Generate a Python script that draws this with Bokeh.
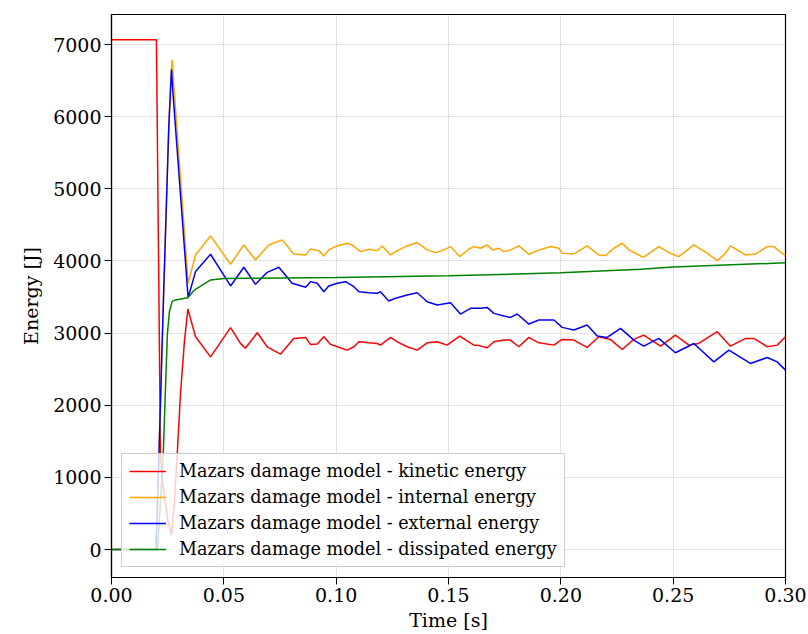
from bokeh.plotting import figure
from bokeh.models import FixedTicker, PrintfTickFormatter, Range1d
from bokeh.embed import file_html
from bokeh.resources import INLINE

# ---- data ----
X_TICKS = [0.00, 0.05, 0.10, 0.15, 0.20, 0.25, 0.30]
Y_TICKS = [0, 1000, 2000, 3000, 4000, 5000, 6000, 7000]

LABELS = [
    "Mazars damage model - kinetic energy",
    "Mazars damage model - internal energy",
    "Mazars damage model - external energy",
    "Mazars damage model - dissipated energy",
]

KIN_T = [0.0, 0.0200, 0.0218, 0.0228, 0.0251, 0.0267, 0.0280, 0.0292, 0.0307, 0.0325, 0.0340,
         0.0374, 0.0441, 0.0530, 0.0574, 0.0596, 0.0649, 0.0693, 0.0752, 0.0811, 0.0864,
         0.0886, 0.0916, 0.0945, 0.0975, 0.1005, 0.1049, 0.1079, 0.1101, 0.1145, 0.1183,
         0.1197, 0.1242, 0.1272, 0.1316, 0.1361, 0.1405, 0.1450, 0.1494, 0.1550, 0.1590,
         0.1613, 0.1628, 0.1672, 0.1702, 0.1746, 0.1776, 0.1813, 0.1858, 0.1902, 0.1969,
         0.2006, 0.2058, 0.2117, 0.2169, 0.2221, 0.2273, 0.2325, 0.2369, 0.2444, 0.2510,
         0.2570, 0.2614, 0.2696, 0.2755, 0.2822, 0.2859, 0.2919, 0.2963, 0.3000]
KIN_E = [7065, 7065, 1290, 900, 400, 204, 650, 1290, 2150, 2900, 3333,
         2950, 2670, 3075, 2857, 2790, 3005, 2810, 2708, 2926, 2940,
         2843, 2847, 2949, 2843, 2810, 2764, 2810, 2879, 2865, 2856,
         2833, 2940, 2879, 2810, 2764, 2865, 2879, 2833, 2958, 2879,
         2833, 2833, 2796, 2879, 2903, 2903, 2810, 2940, 2865, 2833,
         2912, 2903, 2801, 2949, 2912, 2773, 2912, 2972, 2819, 2972,
         2833, 2856, 3019, 2819, 2926, 2926, 2810, 2833, 2949]

INT_T = [0.0, 0.0198, 0.0211, 0.0231, 0.0255, 0.0263, 0.0270, 0.0276, 0.0341,
         0.0374, 0.0441, 0.0530, 0.0589, 0.0641, 0.0700, 0.0760, 0.0811, 0.0864,
         0.0886, 0.0923, 0.0945, 0.0967, 0.0997, 0.1049, 0.1071, 0.1108, 0.1145,
         0.1183, 0.1205, 0.1242, 0.1272, 0.1316, 0.1361, 0.1405, 0.1442, 0.1472,
         0.1509, 0.1550, 0.1590, 0.1613, 0.1642, 0.1672, 0.1695, 0.1724, 0.1746,
         0.1776, 0.1813, 0.1858, 0.1895, 0.1954, 0.1991, 0.2006, 0.2058, 0.2117,
         0.2169, 0.2199, 0.2236, 0.2273, 0.2303, 0.2355, 0.2369, 0.2436, 0.2488,
         0.2525, 0.2592, 0.2652, 0.2696, 0.2733, 0.2755, 0.2822, 0.2867, 0.2919,
         0.2948, 0.3000]
INT_E = [0, 0, 1290, 3440, 5861, 6450, 6792, 6500, 3690,
         4083, 4347, 3954, 4222, 4014, 4222, 4292, 4097, 4083,
         4167, 4143, 4069, 4153, 4199, 4245, 4222, 4129, 4162,
         4143, 4208, 4083, 4143, 4208, 4255, 4153, 4115, 4143,
         4199, 4060, 4162, 4199, 4176, 4222, 4153, 4176, 4129,
         4153, 4208, 4093, 4143, 4199, 4176, 4106, 4097, 4208,
         4083, 4074, 4176, 4245, 4153, 4069, 4051, 4199, 4106,
         4060, 4222, 4106, 4004, 4106, 4208, 4083, 4097, 4199,
         4199, 4069]

EXT_T = [0.0, 0.0198, 0.0211, 0.0231, 0.0255, 0.0267, 0.0273, 0.0341,
         0.0374, 0.0441, 0.0530, 0.0589, 0.0641, 0.0693, 0.0745, 0.0804, 0.0864,
         0.0886, 0.0916, 0.0945, 0.0967, 0.1005, 0.1042, 0.1079, 0.1101, 0.1145,
         0.1183, 0.1197, 0.1234, 0.1264, 0.1316, 0.1361, 0.1405, 0.1450, 0.1509,
         0.1553, 0.1598, 0.1642, 0.1672, 0.1702, 0.1746, 0.1776, 0.1806, 0.1858,
         0.1902, 0.1969, 0.2006, 0.2058, 0.2117, 0.2162, 0.2206, 0.2266, 0.2325,
         0.2369, 0.2436, 0.2510, 0.2592, 0.2681, 0.2748, 0.2844, 0.2919, 0.2963,
         0.3000]
EXT_E = [0, 0, 1290, 3440, 5861, 6653, 6350, 3490,
         3852, 4093, 3653, 3912, 3676, 3842, 3912, 3690, 3634,
         3713, 3690, 3574, 3653, 3690, 3713, 3643, 3574, 3560,
         3551, 3574, 3444, 3482, 3528, 3560, 3435, 3389, 3421,
         3264, 3343, 3343, 3356, 3273, 3236, 3217, 3264, 3125,
         3181, 3181, 3079, 3042, 3111, 2958, 2940, 3065, 2903,
         2820, 2926, 2727, 2856, 2601, 2764, 2579, 2662, 2601,
         2486]

DIS_T = [0.0, 0.0205, 0.0230, 0.0240, 0.0249, 0.0258, 0.0270, 0.0285, 0.0340, 0.0370,
         0.0441, 0.0500, 0.0600, 0.1000, 0.1500, 0.2000, 0.2355, 0.2500, 0.3000]
DIS_E = [0, 0, 1290, 2208, 3000, 3300, 3440, 3460, 3490, 3600,
         3736, 3755, 3760, 3770, 3795, 3835, 3884, 3915, 3975]

SERIES = [
    (KIN_T, KIN_E, "red"),
    (INT_T, INT_E, "orange"),
    (EXT_T, EXT_E, "blue"),
    (DIS_T, DIS_E, "green"),
]

FONT = "DejaVu Serif"
FS = "19px"

p = figure(width=808, height=634, output_backend="svg", toolbar_location=None,
           x_range=Range1d(0, 0.30), y_range=Range1d(-388, 7416),
           min_border_left=111, min_border_right=23, min_border_top=14, min_border_bottom=57,
           background_fill_color="white", border_fill_color="white")

for (t, e, c), lab in zip(SERIES, LABELS):
    p.line(t, e, line_color=c, line_width=1.5, legend_label=lab)

p.outline_line_color = "black"
p.outline_line_width = 1.2
p.outline_line_alpha = 1.0

p.xaxis.ticker = FixedTicker(ticks=X_TICKS)
p.yaxis.ticker = FixedTicker(ticks=Y_TICKS)
p.xaxis.formatter = PrintfTickFormatter(format="%.2f")
p.xaxis.axis_label = "Time [s]"
p.yaxis.axis_label = "Energy [J]"

for ax in (p.xaxis, p.yaxis):
    ax.major_label_text_font = FONT
    ax.major_label_text_font_size = FS
    ax.major_label_text_color = "black"
    ax.axis_label_text_font = FONT
    ax.axis_label_text_font_size = FS
    ax.axis_label_text_font_style = "normal"
    ax.axis_label_text_color = "black"
    ax.major_tick_in = 0
    ax.major_tick_out = 7
    ax.major_tick_line_color = "black"
    ax.minor_tick_line_color = None
    ax.axis_line_color = "black"
    ax.axis_line_width = 1.2
    ax.major_label_standoff = 3
    ax.axis_label_standoff = 4

p.yaxis.axis_label_standoff = 8

for g in (p.xgrid, p.ygrid):
    g.grid_line_color = "#b0b0b0"
    g.grid_line_alpha = 0.35
    g.grid_line_width = 1

lg = p.legend[0]
lg.location = "bottom_left"
lg.margin = 10
lg.padding = 7
lg.spacing = 6
lg.glyph_width = 37
lg.glyph_height = 20
lg.label_height = 20
lg.label_standoff = 13
lg.label_text_font = FONT
lg.label_text_font_size = "17.6px"
lg.label_text_color = "black"
lg.background_fill_color = "white"
lg.background_fill_alpha = 0.8
lg.border_line_color = "#cccccc"
lg.border_line_width = 1
lg.border_line_alpha = 1.0

open("out.html", "w").write(file_html(p, INLINE))
